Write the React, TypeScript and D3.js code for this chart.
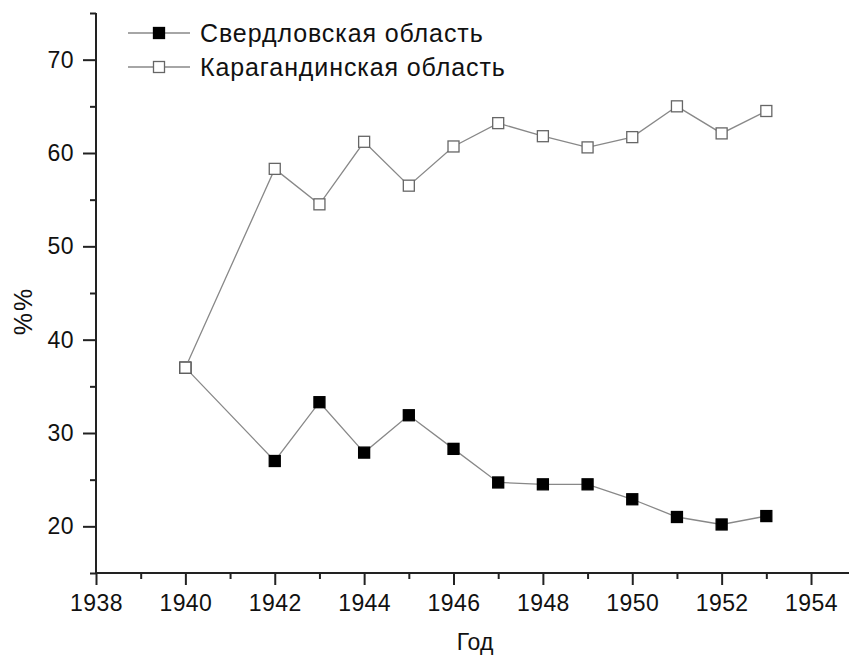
import React, { useEffect, useRef } from "react";
import * as d3 from "d3";

// years and shares
const years = [1940, 1942, 1943, 1944, 1945, 1946, 1947, 1948, 1949, 1950, 1951, 1952, 1953];
const sverdlovsk = [37.0, 27.0, 33.3, 27.9, 31.9, 28.3, 24.7, 24.5, 24.5, 22.9, 21.0, 20.2, 21.1];
const karaganda = [37.0, 58.3, 54.5, 61.2, 56.5, 60.7, 63.2, 61.8, 60.6, 61.7, 65.0, 62.1, 64.5];
const xTicks = [1938, 1940, 1942, 1944, 1946, 1948, 1950, 1952, 1954];
const yTicks = [20, 30, 40, 50, 60, 70];
const seriesNames = ["Свердловская область", "Карагандинская область"];

const W = 849;
const H = 657;
const FONT = "'Liberation Sans', Arial, sans-serif";

export default function App() {
  const ref = useRef<SVGSVGElement>(null);

  useEffect(() => {
    const svg = d3.select(ref.current);
    svg.selectAll("*").remove();

    const x = d3.scaleLinear().domain([1938, 1954.85]).range([96, 849]);
    const y = d3.scaleLinear().domain([15, 75]).range([573, 13]);

    // axes
    const xAxis = d3
      .axisBottom(x)
      .tickValues(d3.range(1938, 1955, 1))
      .tickSize(12)
      .tickFormat((d: any) => (xTicks.includes(+d) ? String(d) : ""));
    const gx = svg.append("g").attr("transform", `translate(0,${y(15)})`).call(xAxis);
    gx.select(".domain").attr("stroke", "#222").attr("stroke-width", 2).attr("d", `M${x(1938)},0H${W}`);
    gx.selectAll(".tick line")
      .attr("stroke", "#222")
      .attr("stroke-width", 2)
      .attr("y2", (d: any) => (xTicks.includes(+d) ? 12 : 6));
    gx.selectAll(".tick text")
      .attr("y", 22)
      .attr("dy", "0.71em")
      .attr("fill", "#111")
      .style("font-family", FONT)
      .style("font-size", "23px")
      .style("letter-spacing", "0.4px");

    const yAxis = d3
      .axisLeft(y)
      .tickValues(d3.range(15, 76, 5))
      .tickSize(13)
      .tickFormat((d: any) => (yTicks.includes(+d) ? String(d) : ""));
    const gy = svg.append("g").attr("transform", `translate(${x(1938)},0)`).call(yAxis);
    gy.select(".domain").attr("stroke", "#222").attr("stroke-width", 2).attr("d", `M0,${y(15)}V${y(75)}`);
    gy.selectAll(".tick line")
      .attr("stroke", "#222")
      .attr("stroke-width", 2)
      .attr("x2", (d: any) => (yTicks.includes(+d) ? -13 : -6));
    gy.selectAll(".tick text")
      .attr("x", -22)
      .attr("fill", "#111")
      .style("font-family", FONT)
      .style("font-size", "23px")
      .style("letter-spacing", "0.4px");

    // axis titles
    svg
      .append("text")
      .attr("x", 475)
      .attr("y", 650)
      .attr("text-anchor", "middle")
      .attr("fill", "#111")
      .style("font-family", FONT)
      .style("font-size", "23px")
      .text("Год");
    svg
      .append("text")
      .attr("transform", `translate(32,311) rotate(-90)`)
      .attr("text-anchor", "middle")
      .attr("fill", "#111")
      .style("font-family", FONT)
      .style("font-size", "25px")
      .style("letter-spacing", "2px")
      .text("%%");

    // series
    const line = d3
      .line<any>()
      .x((d) => x(d[0]))
      .y((d) => y(d[1]));

    const series = [
      { name: seriesNames[0], values: sverdlovsk, fill: "#000", stroke: "#000" },
      { name: seriesNames[1], values: karaganda, fill: "#fff", stroke: "#666" },
    ];

    series.forEach((s, i) => {
      const pts = years.map((yr, j) => [yr, s.values[j]]);
      svg
        .append("path")
        .datum(pts)
        .attr("d", line)
        .attr("fill", "none")
        .attr("stroke", "#888")
        .attr("stroke-width", 1.3);
      svg
        .selectAll(null)
        .data(pts)
        .enter()
        .append("rect")
        .attr("x", (d: any) => x(d[0]) - 5.5)
        .attr("y", (d: any) => y(d[1]) - 5.5)
        .attr("width", 11)
        .attr("height", 11)
        .attr("fill", s.fill)
        .attr("stroke", s.stroke)
        .attr("stroke-width", 1.3);

      // legend
      const ly = 33 + i * 34;
      const lg = svg.append("g");
      lg.append("line")
        .attr("x1", 128)
        .attr("x2", 190)
        .attr("y1", ly)
        .attr("y2", ly)
        .attr("stroke", "#888")
        .attr("stroke-width", 1.3);
      lg.append("rect")
        .attr("x", 159 - 5.5)
        .attr("y", ly - 5.5)
        .attr("width", 11)
        .attr("height", 11)
        .attr("fill", s.fill)
        .attr("stroke", s.stroke)
        .attr("stroke-width", 1.3);
      lg.append("text")
        .attr("x", 200)
        .attr("y", ly)
        .attr("dy", "0.35em")
        .attr("fill", "#111")
        .style("font-family", FONT)
        .style("font-size", "25px")
        .style("letter-spacing", "0.9px")
        .text(s.name);
    });
  }, []);

  return (
    <svg
      ref={ref}
      width={W}
      height={H}
      style={{ position: "absolute", left: 0, top: 0, background: "#fff" }}
    />
  );
}
